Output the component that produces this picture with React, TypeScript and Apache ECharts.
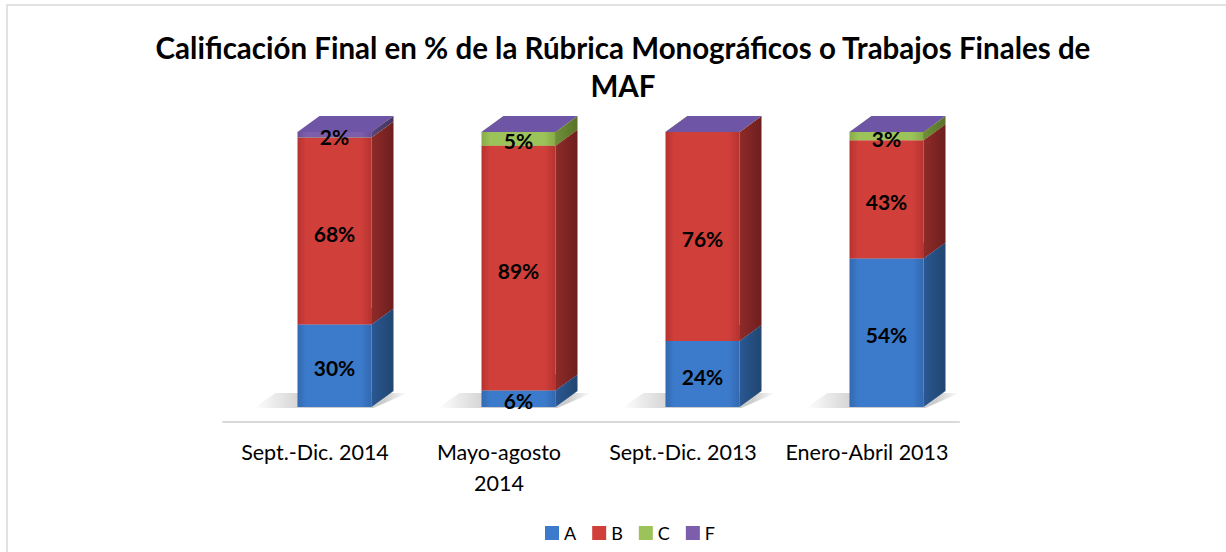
import React, { useEffect, useRef } from "react";
import * as echarts from "echarts";

const categories = ["Sept.-Dic. 2014", "Mayo-agosto\n2014", "Sept.-Dic. 2013", "Enero-Abril 2013"];
const seriesNames = ["A", "B", "C", "F"];
const valuesA = [30, 6, 24, 54];
const valuesB = [68, 89, 76, 43];
const valuesC = [0, 5, 0, 3];
const valuesF = [2, 0, 0, 0];
const titleText = "Calificación Final en % de la Rúbrica Monográficos o Trabajos Finales de\nMAF";

const palette = [
  { front: "#3C7BCB", frontEdge: "#3268B0", side: "#2A5893", sideDark: "#21466F", top: "#4C8AD6" },
  { front: "#D03F3A", frontEdge: "#B53330", side: "#8F2B29", sideDark: "#6E1F1E", top: "#D9534D" },
  { front: "#9CC25A", frontEdge: "#86AA48", side: "#6F8F38", sideDark: "#587229", top: "#A9CE67" },
  { front: "#7D5EAC", frontEdge: "#6A4E96", side: "#59437C", sideDark: "#45335F", top: "#6E55A5" },
];

const BAR_W = 74;
const OFFSET_X = 19.5;
const DX = 22;
const DY = 16;

export default function App() {
  const ref = useRef<HTMLDivElement>(null);
  useEffect(() => {
    if (!ref.current) return;
    const chart = echarts.init(ref.current, null, { renderer: "svg" });
    const all = [valuesA, valuesB, valuesC, valuesF];
    const bases = all.map((_, si) =>
      categories.map((_, ci) => {
        let b = 0;
        for (let k = 0; k < si; k++) b += all[k][ci];
        return b;
      })
    );

    const makeRender = (si: number) => (params: any, api: any) => {
      const ci = api.value(0);
      const base = api.value(1);
      const val = api.value(2);
      const p0 = api.coord([ci, base]);
      const p1 = api.coord([ci, base + val]);
      const cx = p0[0] + OFFSET_X;
      const x0 = cx - BAR_W / 2;
      const x1 = cx + BAR_W / 2;
      const yb = p0[1];
      const yt = p1[1];
      const c = palette[si];
      const children: any[] = [];
      if (si === 0) {
        children.push({
          type: "polygon",
          z2: 0,
          shape: {
            points: [
              [x0 - 44, yb + 1],
              [x1 + 2, yb + 1],
              [x1 + DX + 14, yb - DY + 2],
              [x0 + DX - 44, yb - DY + 2],
            ],
          },
          style: {
            fill: new echarts.graphic.LinearGradient(0, 0, 1, 0, [
              { offset: 0, color: "rgba(0,0,0,0)" },
              { offset: 0.35, color: "rgba(0,0,0,0.2)" },
              { offset: 0.85, color: "rgba(0,0,0,0.2)" },
              { offset: 1, color: "rgba(0,0,0,0)" },
            ]),
          },
        });
      }
      children.push({
        type: "rect",
        z2: 10,
        shape: { x: x0, y: yt, width: BAR_W, height: Math.max(0, yb - yt) },
        style: {
          fill: new echarts.graphic.LinearGradient(0, 0, 1, 0, [
            { offset: 0, color: c.frontEdge },
            { offset: 0.12, color: c.front },
            { offset: 0.85, color: c.front },
            { offset: 1, color: c.frontEdge },
          ]),
        },
      });
      children.push({
        type: "polygon",
        z2: 10,
        shape: {
          points: [
            [x1, yb],
            [x1, yt],
            [x1 + DX, yt - DY],
            [x1 + DX, yb - DY],
          ],
        },
        style: {
          fill: new echarts.graphic.LinearGradient(0, 0, 1, 0, [
            { offset: 0, color: c.side },
            { offset: 1, color: c.sideDark },
          ]),
        },
      });
      children.push({
        type: "polygon",
        z2: 10,
        shape: {
          points: [
            [x0, yt],
            [x1, yt],
            [x1 + DX, yt - DY],
            [x0 + DX, yt - DY],
          ],
        },
        style: { fill: c.top },
      });
      if (val > 0) {
        children.push({
          type: "text",
          z2: 100,
          style: {
            text: val + "%",
            x: cx,
            y: (yb + yt) / 2 + 2,
            align: "center",
            verticalAlign: "middle",
            fill: "#000",
            font: "bold 21px Lato",
          },
        });
      }
      return { type: "group", children };
    };

    const series = seriesNames.map((name, si) => ({
      name,
      type: "custom",
      renderItem: makeRender(si),
      itemStyle: { color: palette[si].front },
      data: categories.map((_, ci) => [ci, bases[si][ci], all[si][ci]]),
      encode: { x: 0, y: 1 },
    }));

    chart.setOption({
      animation: false,
      backgroundColor: "#fff",
      title: {
        text: titleText,
        left: 618,
        textAlign: "center",
        top: 23,
        textStyle: {
          fontFamily: "Lato",
          fontWeight: "bold",
          fontSize: 29.5,
          lineHeight: 38,
          color: "#000",
        },
      },
      graphic: [
        {
          type: "rect",
          shape: { x: 7, y: 5, width: 1240, height: 600 },
          style: { fill: "none", stroke: "#D9D9D9", lineWidth: 1.5 },
          silent: true,
        },
      ],
      legend: {
        data: seriesNames,
        left: 540,
        top: 519,
        icon: "rect",
        itemWidth: 14,
        itemHeight: 14,
        itemGap: 16,
        textStyle: { fontFamily: "Lato", fontSize: 18, color: "#000" },
      },
      grid: { left: 223, right: 267, top: 132, bottom: 130 },
      xAxis: {
        type: "category",
        data: categories,
        axisLine: { onZero: false, lineStyle: { color: "#D9D9D9", width: 2 } },
        axisTick: { show: false },
        axisLabel: {
          fontFamily: "Lato",
          fontSize: 21.5,
          color: "#000",
          lineHeight: 31,
          margin: 14,
          interval: 0,
        },
      },
      yAxis: { type: "value", min: -5.4545, max: 100, show: false },
      series,
    });
    return () => chart.dispose();
  }, []);
  return (
    <div
      ref={ref}
      style={{ position: "fixed", left: 0, top: 0, width: 1226, height: 552 }}
    />
  );
}
